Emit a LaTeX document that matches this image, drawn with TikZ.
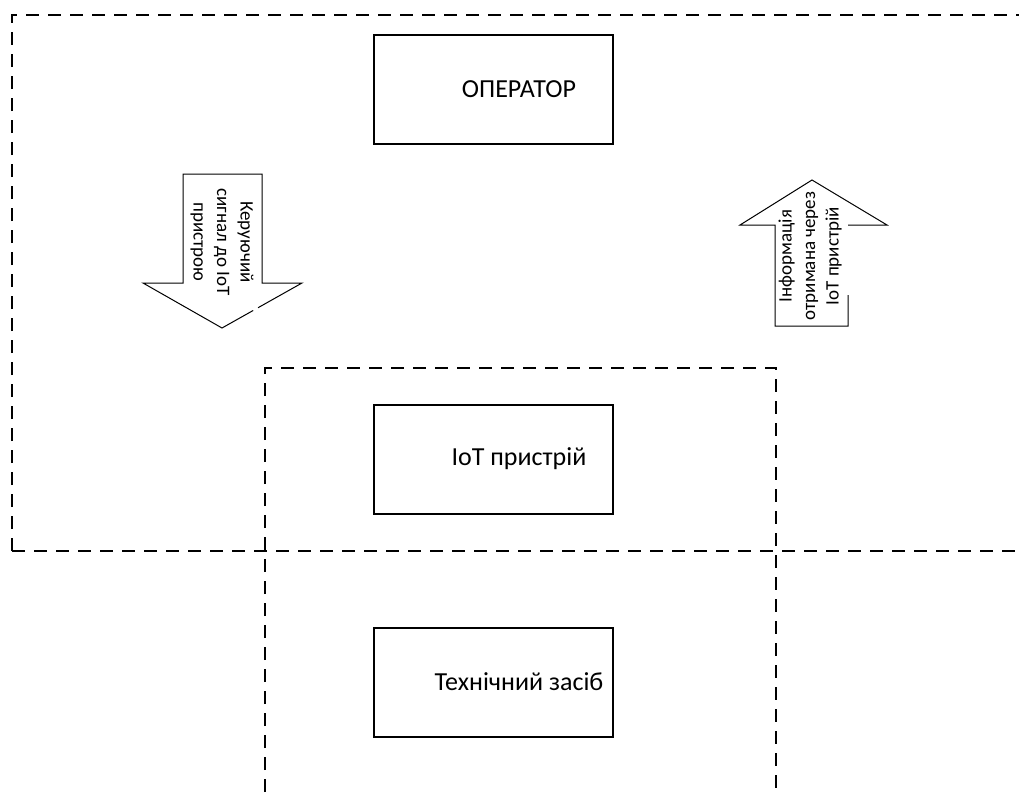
\documentclass[tikz,border=0pt]{standalone}
\usepackage{fontspec}
\setmainfont{Carlito}
\begin{document}
\begin{tikzpicture}[x=1pt,y=-1pt,
  frame/.style={line width=1.5pt, dash pattern=on 13pt off 9pt},
  box/.style={draw, line width=2pt, minimum width=239pt, minimum height=109pt, inner sep=0pt},
  lbl/.style={font=\fontsize{26}{31}\selectfont, inner sep=0pt},
  arr/.style={line width=1pt, line join=miter},
  atxt/.style={font=\fontsize{19}{23.5}\selectfont, align=center, inner sep=0pt}]
\useasboundingbox (0,0) rectangle (1019,792);
% dashed frames
\draw[frame] (12,551) -- (12,15) -- (1019,15);
\draw[frame] (12,551) -- (1019,551);
\draw[frame] (265,792) -- (265,368) -- (776,368) -- (776,792);
% boxes
\node[box] (op) at (493.5,89.5) {};
\node[lbl] (opt) at (519,89.5) {ОПЕРАТОР};
\node[box] (iot) at (493.5,459) {};
\node[lbl] (iott) at (519,459) {IoT пристрій};
\node[box] (tz) at (493.5,682) {};
\node[lbl] (tzt) at (519,682) {Технічний засіб};
% down arrow
\draw[arr] (253.2,310.45) -- (222,328) -- (143,283) -- (183,283) -- (183,174) -- (262,174) -- (262,283) -- (302,283) -- (258,307.75);
\node[atxt, rotate=-90] (t1) at (222,242) {Керуючий\\сигнал до IoT\\пристрою};
% up arrow
\draw[arr] (848,295) -- (848,326) -- (775,326) -- (775,225) -- (740,225) -- (812,180) -- (887,225) -- (848,225);
\node[atxt, rotate=90] (t2) at (810,256) {Інформація\\отримана через\\IoT пристрій};
\end{tikzpicture}
\end{document}
